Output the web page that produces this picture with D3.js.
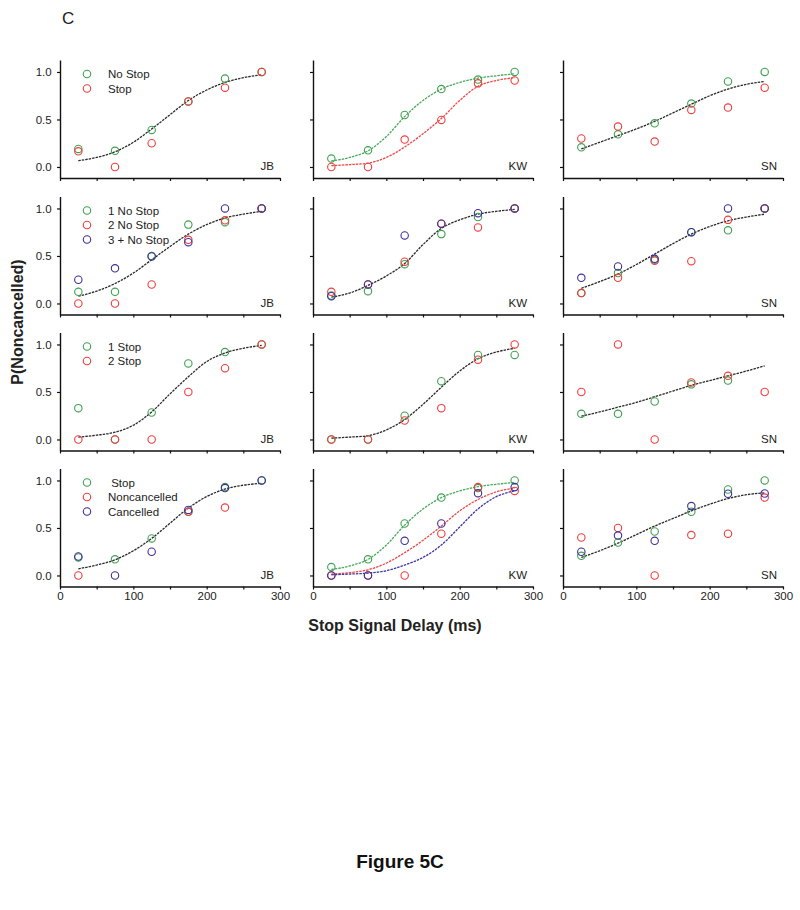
<!DOCTYPE html>
<html><head><meta charset="utf-8">
<script src="https://cdn.jsdelivr.net/npm/d3@7"></script>
<style>
body{margin:0;background:#fff;}
svg{display:block;font-family:"Liberation Sans",Arial,sans-serif;}
</style></head>
<body><svg id="chart" width="800" height="910"></svg>
<script>
// ---------- data ----------
const delays = [25, 75, 125, 175, 225, 275];
const fitDelays = [25, 50, 75, 100, 125, 150, 175, 200, 225, 250, 275];
const subjects = ["JB", "KW", "SN"];
const xTicks = [0, 50, 100, 150, 200, 250, 300];
const xTickLabels = [0, 100, 200, 300];
const yTicks = [0, 0.5, 1.0];

const row1Legend = ["No Stop", "Stop"];
const row2Legend = ["1 No Stop", "2 No Stop", "3 + No Stop"];
const row3Legend = ["1 Stop", "2 Stop"];
const row4Legend = [" Stop", "Noncancelled", "Cancelled"];

// points per panel: one array per series (green, red, blue)
const row1JB = [[0.19, 0.17, 0.39, 0.69, 0.93, 1.0], [0.165, 0.0, 0.25, 0.69, 0.835, 1.0]];
const row1KW = [[0.088, 0.175, 0.547, 0.82, 0.92, 1.0], [0.0, 0.0, 0.288, 0.495, 0.88, 0.91]];
const row1SN = [[0.207, 0.344, 0.46, 0.667, 0.90, 1.0], [0.30, 0.425, 0.267, 0.60, 0.625, 0.835]];

const row2JB = [[0.123, 0.123, 0.5, 0.83, 0.856, 1.0], [0.0, 0.0, 0.2, 0.67, 0.875, 1.0], [0.25, 0.37, 0.495, 0.645, 1.0, 1.0]];
const row2KW = [[0.084, 0.13, 0.414, 0.73, 0.91, 1.0], [0.123, 0.2, 0.44, 0.84, 0.80, 1.0], [0.077, 0.2, 0.716, 0.84, 0.95, 1.0]];
const row2SN = [[0.11, 0.32, 0.46, 0.75, 0.77, 1.0], [0.11, 0.27, 0.45, 0.445, 0.88, 1.0], [0.27, 0.39, 0.47, 0.75, 1.0, 1.0]];

const row3JB = [[0.33, 0.0, 0.284, 0.80, 0.92, 1.0], [0.0, 0.0, 0.0, 0.50, 0.75, 1.0]];
const row3KW = [[0.0, 0.0, 0.25, 0.614, 0.89, 0.89], [0.0, 0.0, 0.2, 0.33, 0.84, 1.0]];
const row3SN = [[0.27, 0.27, 0.40, 0.58, 0.62, null], [0.50, 1.0, 0.0, 0.60, 0.67, 0.50]];

const row4JB = [[0.19, 0.17, 0.39, 0.67, 0.93, 1.0], [0.0, null, null, 0.67, 0.715, null], [0.2, 0.0, 0.25, 0.69, 0.92, 1.0]];
const row4KW = [[0.088, 0.17, 0.547, 0.82, 0.92, 1.0], [0.0, 0.0, 0.0, 0.44, 0.93, 0.89], [0.0, 0.0, 0.365, 0.547, 0.866, 0.93]];
const row4SN = [[0.207, 0.347, 0.463, 0.67, 0.905, 1.0], [0.40, 0.50, 0.0, 0.425, 0.44, 0.82], [0.25, 0.42, 0.365, 0.73, 0.86, 0.863]];

// fitted curves read at fitDelays; "k" = black, otherwise series index colour
const row1JBFit = [["k", [0.067, 0.10, 0.16, 0.26, 0.40, 0.55, 0.70, 0.81, 0.89, 0.94, 0.97]]];
const row1KWFit = [[0, [0.063, 0.10, 0.17, 0.32, 0.53, 0.70, 0.82, 0.89, 0.935, 0.96, 0.98]],
                   [1, [0.014, 0.025, 0.04, 0.10, 0.21, 0.35, 0.51, 0.70, 0.85, 0.91, 0.94]]];
const row1SNFit = [["k", [0.19, 0.26, 0.33, 0.40, 0.48, 0.57, 0.66, 0.75, 0.82, 0.87, 0.90]]];
const row2JBFit = [["k", [0.077, 0.13, 0.21, 0.32, 0.46, 0.60, 0.73, 0.83, 0.90, 0.94, 0.97]]];
const row2KWFit = [["k", [0.067, 0.11, 0.19, 0.29, 0.42, 0.62, 0.79, 0.88, 0.94, 0.97, 0.99]]];
const row2SNFit = [["k", [0.16, 0.23, 0.31, 0.41, 0.52, 0.63, 0.73, 0.81, 0.87, 0.91, 0.94]]];
const row3JBFit = [["k", [0.025, 0.045, 0.077, 0.15, 0.29, 0.48, 0.66, 0.82, 0.91, 0.96, 0.99]]];
const row3KWFit = [["k", [0.014, 0.025, 0.04, 0.10, 0.21, 0.37, 0.55, 0.72, 0.85, 0.92, 0.96]]];
const row3SNFit = [["k", [0.245, 0.29, 0.34, 0.39, 0.45, 0.51, 0.57, 0.62, 0.67, 0.72, 0.775]]];
const row4JBFit = [["k", [0.07, 0.11, 0.165, 0.26, 0.39, 0.55, 0.71, 0.83, 0.91, 0.95, 0.97]]];
const row4KWFit = [[0, [0.063, 0.10, 0.17, 0.32, 0.53, 0.70, 0.82, 0.89, 0.935, 0.96, 0.98]],
                   [1, [0.014, 0.03, 0.06, 0.13, 0.24, 0.37, 0.52, 0.68, 0.80, 0.88, 0.92]],
                   [2, [0.007, 0.015, 0.025, 0.05, 0.11, 0.19, 0.32, 0.51, 0.70, 0.83, 0.89]]];
const row4SNFit = [["k", [0.19, 0.26, 0.34, 0.43, 0.52, 0.60, 0.68, 0.75, 0.81, 0.85, 0.87]]];

// ---------- build ----------
const rows = [
  {legend: row1Legend, panels: [row1JB, row1KW, row1SN], fits: [row1JBFit, row1KWFit, row1SNFit]},
  {legend: row2Legend, panels: [row2JB, row2KW, row2SN], fits: [row2JBFit, row2KWFit, row2SNFit]},
  {legend: row3Legend, panels: [row3JB, row3KW, row3SN], fits: [row3JBFit, row3KWFit, row3SNFit]},
  {legend: row4Legend, panels: [row4JB, row4KW, row4SN], fits: [row4JBFit, row4KWFit, row4SNFit]}
];

const pointColors = ["#3fa150", "#f23c3c", "#3c2f9c"];
const curveColors = ["#45a957", "#f04545", "#3d34a8"];
const colX = [60, 313, 563];
const rowTop = [60, 196.5, 332.5, 468.5];
const W = 220, H = 118;

const svg = d3.select("#chart");
const x = d3.scaleLinear().domain([0, 300]).range([0, W]);
const y = d3.scaleLinear().domain([-0.116, 1.126]).range([H, 0]);
const line = d3.line().defined(d => d[1] != null).x(d => x(d[0])).y(d => y(d[1])).curve(d3.curveMonotoneX);

rows.forEach((row, r) => {
  row.panels.forEach((series, c) => {
    const g = svg.append("g").attr("transform", `translate(${colX[c]},${rowTop[r]})`);

    // axes
    const xa = d3.axisBottom(x).tickValues(xTicks).tickSize(3).tickSizeOuter(0)
      .tickFormat(d => (r === 3 && xTickLabels.includes(d)) ? d : "");
    const gx = g.append("g").attr("transform", `translate(0,${H})`).call(xa);
    const ya = d3.axisLeft(y).tickValues(yTicks).tickSize(3).tickSizeOuter(0)
      .tickFormat(d => c === 0 ? d3.format(".1f")(d) : "");
    const gy = g.append("g").call(ya);
    [gx, gy].forEach(a => {
      a.select(".domain").attr("stroke", "#111").attr("stroke-width", 1.4);
      a.selectAll(".tick line").attr("stroke", "#111").attr("stroke-width", 1.2);
      a.selectAll(".tick text").attr("font-size", 11.5).attr("fill", "#222")
        .attr("font-family", "Liberation Sans, Arial, sans-serif");
    });
    gx.selectAll(".tick text").attr("dy", "0.62em");
    gy.selectAll(".tick text").attr("dx", "-0.2em");

    // fitted curves
    row.fits[c].forEach(([ci, vals]) => {
      g.append("path")
        .datum(fitDelays.map((d, i) => [d, vals[i]]))
        .attr("d", line)
        .attr("fill", "none")
        .attr("stroke", ci === "k" ? "#2a2a2a" : curveColors[ci])
        .attr("stroke-width", 1.3)
        .attr("stroke-dasharray", "2.5,1");
    });

    // points
    series.forEach((vals, si) => {
      g.selectAll(null)
        .data(delays.map((d, i) => [d, vals[i]]).filter(d => d[1] != null))
        .join("circle")
        .attr("cx", d => x(d[0]))
        .attr("cy", d => y(d[1]))
        .attr("r", 3.7)
        .attr("fill", "none")
        .attr("stroke", pointColors[si])
        .attr("stroke-width", 1.1);
    });

    // subject label
    g.append("text").attr("x", W - 6).attr("y", y(0) + 3.5)
      .attr("text-anchor", "end").attr("font-size", 11.5).attr("fill", "#222")
      .text(subjects[c]);

    // legend in first column
    if (c === 0) {
      row.legend.forEach((lab, li) => {
        const ly = 14 + li * 14.5;
        g.append("circle").attr("cx", 27).attr("cy", ly).attr("r", 3.7)
          .attr("fill", "none").attr("stroke", pointColors[li]).attr("stroke-width", 1.1);
        g.append("text").attr("x", 48).attr("y", ly + 4).attr("font-size", 11.5)
          .attr("fill", "#222").attr("xml:space", "preserve").style("white-space", "pre").text(lab);
      });
    }
  });
});

// titles
svg.append("text").attr("x", 62).attr("y", 24).attr("font-size", 17).attr("fill", "#222").text("C");
svg.append("text").attr("x", 395).attr("y", 631).attr("text-anchor", "middle")
  .attr("font-size", 16).attr("font-weight", "bold").attr("fill", "#222").text("Stop Signal Delay (ms)");
svg.append("text").attr("transform", "translate(23,322) rotate(-90)").attr("text-anchor", "middle")
  .attr("font-size", 16).attr("font-weight", "bold").attr("fill", "#222").text("P(Noncancelled)");
svg.append("text").attr("x", 400).attr("y", 868).attr("text-anchor", "middle")
  .attr("font-size", 19).attr("font-weight", "bold").attr("fill", "#111").text("Figure 5C");
</script></body></html>
